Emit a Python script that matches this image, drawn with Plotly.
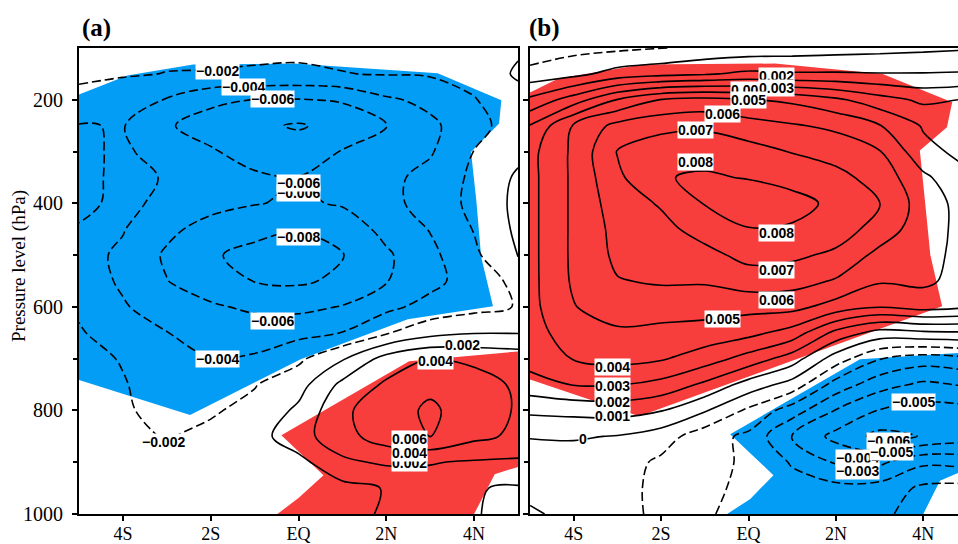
import numpy as np
import plotly.graph_objects as go

# ---------------- data ----------------
lon = [-5, -4, -3, -2, -1, 0, 1, 2, 3, 4, 5]
lev = [100, 150, 200, 250, 300, 350, 400, 450, 500, 550, 600, 650, 700,
       750, 800, 850, 900, 950, 1000]

# panel (a) field, units of 1e-3 (rows = lev, cols = lon)
field_a = [
    [-1.0, -1.3, -1.5, -1.5, -1.6, -1.6, -1.6, -1.4, -1.2, -0.8, -0.3],
    [-1.6, -1.8, -2.05, -2.1, -2.2, -2.3, -2.05, -1.9, -1.8, -1.4, 0.3],
    [-2.6, -3.3, -4.1, -5.6, -6.05, -6.1, -5.8, -4.3, -3.5, -2.1, -0.8],
    [-4.1, -3.9, -5.8, -6.8, -7.6, -8.2, -7.3, -6.1, -4.4, -2.8, -0.8],
    [-4.4, -3.7, -4.8, -5.8, -6.8, -7.0, -5.9, -5.0, -4.2, -1.95, -0.5],
    [-4.5, -3.6, -4.1, -5.0, -5.7, -5.95, -5.4, -4.5, -3.4, -1.6, 0.3],
    [-4.3, -3.7, -4.3, -5.3, -5.9, -6.3, -5.8, -4.6, -3.2, -1.5, 0.5],
    [-3.9, -3.9, -5.5, -6.8, -7.5, -7.9, -7.2, -5.4, -3.9, -1.9, 0.4],
    [-3.4, -4.3, -6.3, -7.8, -8.5, -9.0, -8.1, -6.3, -4.5, -2.4, 0.1],
    [-2.9, -4.3, -5.95, -7.2, -8.05, -8.3, -7.6, -6.1, -4.6, -3.0, -1.5],
    [-2.3, -3.8, -5.05, -5.7, -6.4, -6.5, -5.9, -4.5, -3.3, -2.6, -1.9],
    [-1.8, -3.05, -3.95, -5.0, -4.8, -4.6, -3.95, -2.2, -0.7, -0.1, -0.1],
    [-1.5, -2.1, -3.4, -3.95, -3.8, -2.4, -0.2, 2.8, 4.1, 3.6, 3.2],
    [-1.3, -1.9, -2.7, -3.1, -2.1, -0.8, 2.5, 4.3, 5.6, 4.8, 3.7],
    [-1.2, -1.8, -2.5, -2.2, -1.5, 0.4, 3.6, 5.2, 6.3, 5.1, 3.8],
    [-1.1, -1.6, -2.1, -1.6, -0.8, 1.2, 3.3, 5.0, 6.05, 4.5, 3.6],
    [-1.0, -1.4, -1.7, -1.3, -0.6, -0.6, 1.6, 2.3, 2.1, 1.8, 1.7],
    [-0.9, -1.2, -1.4, -1.0, -0.5, -0.6, -0.6, 0.1, 1.2, 0.1, -0.2],
    [-0.8, -1.0, -1.2, -0.8, -0.4, -0.6, -0.8, 0.3, 0.9, 0.1, -0.5],
]

# panel (b) field, units of 1e-3
field_b = [
    [-1.8, -1.3, -1.2, -1.05, -0.7, -0.6, -0.5, -0.4, -0.3, -0.2, -0.1],
    [-0.6, -0.3, 0.4, 0.7, 0.9, 1.2, 1.1, 1.1, 1.05, 1.05, 1.1],
    [1.2, 2.5, 4.05, 5.05, 5.3, 5.05, 4.8, 4.2, 3.4, 2.8, 3.05],
    [3.05, 5.1, 6.3, 6.7, 6.8, 6.4, 6.1, 5.8, 5.05, 3.9, 3.4],
    [3.7, 5.2, 7.05, 7.6, 7.7, 7.4, 6.95, 6.6, 6.05, 4.3, 3.7],
    [3.7, 5.2, 6.8, 7.95, 8.1, 7.95, 7.7, 7.3, 6.6, 5.2, 4.2],
    [3.7, 5.2, 6.5, 7.1, 8.05, 8.6, 8.3, 7.8, 7.05, 5.5, 4.6],
    [3.7, 5.2, 6.3, 6.7, 7.4, 7.95, 7.9, 7.5, 6.6, 5.4, 4.7],
    [3.7, 5.2, 6.2, 6.4, 6.7, 7.3, 7.2, 6.8, 5.7, 5.3, 4.7],
    [3.7, 5.15, 5.95, 6.1, 6.1, 6.5, 6.4, 5.9, 5.1, 5.2, 4.6],
    [3.7, 4.95, 5.6, 5.5, 5.4, 5.3, 5.3, 4.6, 4.05, 4.4, 4.1],
    [3.6, 4.5, 4.8, 4.7, 4.6, 4.3, 3.6, 1.7, 0.6, 0.8, 0.9],
    [3.4, 4.05, 4.3, 4.1, 3.5, 2.6, 1.5, -0.5, -1.95, -2.5, -2.2],
    [2.6, 3.05, 3.05, 2.7, 1.8, 0.6, -0.4, -2.4, -3.6, -4.2, -3.9],
    [1.2, 1.3, 1.4, 1.05, 0.1, -1.2, -2.5, -4.05, -5.05, -5.4, -5.3],
    [0.05, 0.1, -0.05, -0.5, -1.6, -2.2, -4.1, -5.3, -6.3, -5.95, -5.5],
    [-0.5, -0.5, -0.5, -1.2, -1.8, -2.1, -3.1, -4.1, -4.2, -3.2, -3.4],
    [-0.4, -0.6, -0.6, -1.3, -1.9, -2.1, -2.6, -2.7, -2.6, -1.8, -1.7],
    [0.2, -0.4, -0.7, -1.2, -1.9, -2.3, -2.5, -2.6, -2.2, -1.6, -1.5],
]

# significance areas (outline vertices)
sig_a_neg_lon = [-5.0, -3.9, -2.4, -0.1, 3.17, 4.62, 4.57, 3.93, 4.05, 4.16, 4.43, 2.49, 0.05, -2.47, -5.0]
sig_a_neg_lev = [190, 153, 132, 130, 149, 201, 246, 301, 394, 503, 599, 624, 701, 809, 741]
sig_a_pos_lon = [2.52, 5.0, 5.0, 4.47, 4.0, -0.48, 0.0, 0.57, -0.39]
sig_a_pos_lev = [705, 686, 909, 923, 1000, 1000, 969, 925, 848]
sig_b_pos_lon = [-5.0, -4.35, -2.43, 0.6, 3.07, 4.66, 4.54, 3.92, 4.05, 4.16, 4.43, -2.5, -5.0]
sig_b_pos_lev = [186, 159, 132, 130, 150, 205, 253, 298, 406, 500, 599, 811, 740]
sig_b_neg_lon = [2.55, 5.0, 5.0, 4.38, 4.0, -0.49, 0.04, 0.57, -0.42]
sig_b_neg_lev = [701, 688, 913, 936, 1000, 1000, 971, 925, 846]

xtick_vals = [-4, -2, 0, 2, 4]
xtick_text = ["4S", "2S", "EQ", "2N", "4N"]
ytick_vals = [200, 400, 600, 800, 1000]
yminor_vals = [300, 500, 700, 900]

# contour labels: (text, lon, lev)
labels_a = [
    ("-0.002", -1.85, 144), ("-0.004", -1.25, 175), ("-0.006", -0.6, 198),
    ("-0.006", 0.0, 380), ("-0.006", 0.0, 361), ("-0.008", 0.0, 465),
    ("-0.006", -0.6, 628), ("-0.004", -1.85, 701), ("-0.002", -3.08, 861),
    ("0.002", 3.74, 673), ("0.004", 3.13, 705),
    ("0.002", 2.52, 901), ("0.004", 2.52, 882), ("0.006", 2.52, 855),
]
labels_b = [
    ("0.002", 0.65, 155), ("0.004", 0.0, 181), ("0.003", 0.65, 177),
    ("0.005", 0.0, 201), ("0.006", -0.6, 227), ("0.007", -1.22, 259),
    ("0.008", -1.22, 320), ("0.008", 0.65, 458), ("0.007", 0.65, 529),
    ("0.006", 0.65, 586), ("0.005", -0.6, 624), ("0.004", -3.12, 717),
    ("0.003", -3.12, 752), ("0.002", -3.12, 783), ("0.001", -3.12, 811),
    ("0", -3.78, 855), ("-0.005", 3.77, 784), ("-0.006", 3.2, 859),
    ("-0.004", 2.5, 892), ("-0.005", 3.28, 881), ("-0.003", 2.5, 917),
]

BLUE = "#049DF6"
RED = "#F83D3D"

# ---------------- figure ----------------
fig = go.Figure()

za = np.array(field_a) * 1e-3
zb = np.array(field_b) * 1e-3


def poly_shape(lx, ly, color, xa, ya):
    path = "M " + " L ".join(f"{a},{b}" for a, b in zip(lx, ly)) + " Z"
    return dict(type="path", path=path, xref=xa, yref=ya, fillcolor=color,
                line=dict(width=0), layer="below")


def add_contours(z, start, end, size, dash, xa, ya):
    fig.add_trace(go.Contour(
        x=lon, y=lev, z=z, xaxis=xa, yaxis=ya,
        contours=dict(start=start, end=end, size=size, coloring="lines",
                      showlabels=False),
        colorscale=[[0, "black"], [1, "black"]], showscale=False,
        line=dict(width=1.6, dash=dash, smoothing=1.0),
        hoverinfo="skip"))


add_contours(za, -0.008, -0.002, 0.002, "9px,4px", "x", "y")
add_contours(za, 0.0, 0.006, 0.002, "solid", "x", "y")
add_contours(zb, -0.006, -0.001, 0.001, "9px,4px", "x2", "y2")
add_contours(zb, 0.0, 0.008, 0.001, "solid", "x2", "y2")

shapes = [
    poly_shape(sig_a_neg_lon, sig_a_neg_lev, BLUE, "x", "y"),
    poly_shape(sig_a_pos_lon, sig_a_pos_lev, RED, "x", "y"),
    poly_shape(sig_b_pos_lon, sig_b_pos_lev, RED, "x2", "y2"),
    poly_shape(sig_b_neg_lon, sig_b_neg_lev, BLUE, "x2", "y2"),
]

W, H = 958, 544
ydom = [1 - 514 / H, 1 - 48 / H]
serif = "Liberation Serif, Times New Roman, serif"
tickfont = dict(family=serif, size=18, color="black")
common_x = dict(range=[-5, 5], tickvals=xtick_vals, ticktext=xtick_text,
                ticks="outside", ticklen=5, tickwidth=1.5, tickcolor="black",
                showline=True, linewidth=2, linecolor="black", mirror=True,
                showgrid=False, zeroline=False, tickfont=tickfont,
                ticklabelstandoff=-3)
common_y = dict(range=[1000, 100], tickvals=ytick_vals, ticks="outside",
                ticklen=5, tickwidth=1.5, tickcolor="black",
                minor=dict(tickvals=yminor_vals, ticks="outside", ticklen=4,
                           tickwidth=1.5, tickcolor="black"),
                showline=True, linewidth=2, linecolor="black",
                showgrid=False, zeroline=False,
                tickfont=dict(family=serif, size=20, color="black"))

fig.update_layout(
    width=W, height=H, margin=dict(l=0, r=0, t=0, b=0, autoexpand=False),
    paper_bgcolor="white", plot_bgcolor="white", showlegend=False,
    shapes=shapes,
    xaxis=dict(common_x, domain=[79 / W, 518 / W], anchor="y"),
    yaxis=dict(common_y, domain=ydom, anchor="x", mirror=True,
               ticklabelstandoff=5),
    xaxis2=dict(common_x, domain=[530 / W, 1.0], anchor="y2",
                range=[-5, (958 - 748.3) / 43.75]),
    yaxis2=dict(common_y, domain=ydom, anchor="x2", mirror=False,
                showticklabels=False),
)

labfont = dict(family="Liberation Sans, Arial, sans-serif",
               size=14, color="black", weight="bold")
for txt, x, y in labels_a:
    fig.add_annotation(x=x, y=y, xref="x", yref="y", text=txt.replace("-", "\u2212"),
                       showarrow=False, bgcolor="white", borderpad=0,
                       font=labfont)
for txt, x, y in labels_b:
    fig.add_annotation(x=x, y=y, xref="x2", yref="y2", text=txt.replace("-", "\u2212"),
                       showarrow=False, bgcolor="white", borderpad=0,
                       font=labfont)

titlefont = dict(family=serif, size=25, color="black", weight="bold")
fig.add_annotation(x=96 / W, y=1 - 28 / H, xref="paper", yref="paper",
                   xanchor="center", yanchor="middle",
                   text="(a)", showarrow=False, font=titlefont)
fig.add_annotation(x=544 / W, y=1 - 28 / H, xref="paper", yref="paper",
                   xanchor="center", yanchor="middle",
                   text="(b)", showarrow=False, font=titlefont)
fig.add_annotation(x=19 / W, y=1 - 266 / H, xref="paper", yref="paper",
                   xanchor="center", yanchor="middle",
                   text="Pressure level (hPa)", textangle=-90, showarrow=False,
                   font=dict(family=serif, size=19, color="black"))

fig.write_html("out.html", config={"displayModeBar": False},
               post_script="document.body.style.margin='0';"
                           "document.body.style.overflow='hidden';")
